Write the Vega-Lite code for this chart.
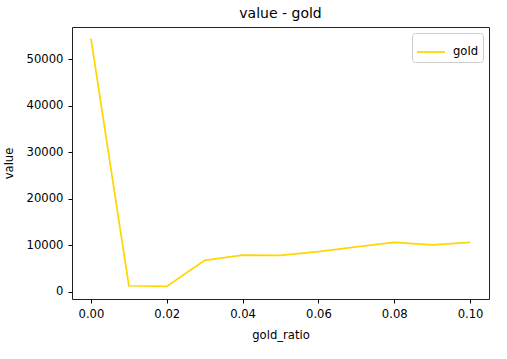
{
  "$schema": "https://vega.github.io/schema/vega-lite/v6.json",
  "width": 417,
  "height": 272,
  "autosize": {"type": "none"},
  "padding": {"left": 72, "top": 27, "right": 18, "bottom": 60},
  "background": "white",
  "title": {"text": "value - gold", "fontSize": 14, "font": "DejaVu Sans", "fontWeight": "normal", "color": "#000", "offset": 6},
  "config": {
    "view": {"stroke": "#222", "strokeWidth": 1},
    "font": "DejaVu Sans",
    "axis": {
      "grid": false, "domain": false,
      "tickColor": "#000", "tickSize": 4, "tickWidth": 1,
      "labelColor": "#000", "labelFontSize": 11.6, "labelFont": "DejaVu Sans",
      "titleColor": "#000", "titleFontSize": 11.6, "titleFont": "DejaVu Sans", "titleFontWeight": "normal"
    }
  },
  "data": {"values": [
    {"gold_ratio": 0.00, "value": 54460, "series": "gold"},
    {"gold_ratio": 0.01, "value": 1290, "series": "gold"},
    {"gold_ratio": 0.02, "value": 1150, "series": "gold"},
    {"gold_ratio": 0.03, "value": 6750, "series": "gold"},
    {"gold_ratio": 0.04, "value": 7900, "series": "gold"},
    {"gold_ratio": 0.05, "value": 7830, "series": "gold"},
    {"gold_ratio": 0.06, "value": 8620, "series": "gold"},
    {"gold_ratio": 0.07, "value": 9630, "series": "gold"},
    {"gold_ratio": 0.08, "value": 10630, "series": "gold"},
    {"gold_ratio": 0.09, "value": 10060, "series": "gold"},
    {"gold_ratio": 0.10, "value": 10630, "series": "gold"}
  ]},
  "mark": {"type": "line", "strokeWidth": 1.75},
  "encoding": {
    "x": {
      "field": "gold_ratio", "type": "quantitative",
      "scale": {"domain": [-0.005, 0.105], "nice": false, "zero": false},
      "axis": {"values": [0, 0.02, 0.04, 0.06, 0.08, 0.1], "format": ".2f", "labelPadding": 5, "title": "gold_ratio", "titlePadding": 10, "labelFlush": false}
    },
    "y": {
      "field": "value", "type": "quantitative",
      "scale": {"domain": [-1560, 56960], "nice": false, "zero": false},
      "axis": {"values": [0, 10000, 20000, 30000, 40000, 50000], "format": "d", "labelPadding": 5, "title": "value", "titlePadding": 12, "labelFlush": false}
    },
    "color": {
      "field": "series", "type": "nominal",
      "scale": {"domain": ["gold"], "range": ["#FFD700"]},
      "legend": {
        "title": null, "orient": "none", "legendX": 340, "legendY": 6,
        "fillColor": "white", "strokeColor": "#ccc", "cornerRadius": 3, "padding": 4,
        "symbolType": "stroke", "symbolSize": 784, "symbolStrokeWidth": 1.75,
        "labelFontSize": 11.6, "labelColor": "#000", "labelFont": "DejaVu Sans", "labelOffset": 7
      }
    }
  }
}
